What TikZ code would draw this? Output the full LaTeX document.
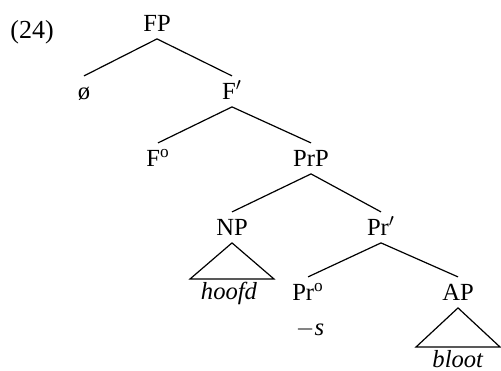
\documentclass[tikz,border=0pt]{standalone}
\usepackage{fontspec}
\setmainfont{Liberation Serif}
\usepackage{tikz}
\usetikzlibrary{calc}

\begin{document}
\begin{tikzpicture}[
  x=0.5pt, y=-0.5pt,
  font=\fontsize{12.3}{14}\selectfont,
  cat/.style={inner xsep=1pt, inner ysep=3.75pt, text height=7.6pt, text depth=0pt},
  leaf/.style={inner xsep=1pt, inner ysep=2.5pt, text height=7.6pt, text depth=0pt},
  branch/.style={line width=0.6pt},
  roof/.style={line width=0.6pt, line join=miter}
]
\useasboundingbox (0,0) rectangle (501,370);

\node[anchor=base west, inner sep=0, font=\fontsize{13}{14}\selectfont] (num) at (10,38) {(24)};

\node[cat] (fp)    at (157,23.4)  {FP};
\node[cat] (empty) at (84,91.4)   {ø};
\node[cat] (fbar)  at (232,91.4)  {F$'$};
\node[cat] (fzero) at (158,158.4) {F\textsuperscript{o}};
\node[cat] (prp)   at (311,158.4) {PrP};
\node[cat] (np)    at (232,227.4) {NP};
\node[cat] (prbar) at (381,227.4) {Pr$'$};
\node[cat] (przero) at (308,292.4) {Pr\textsuperscript{o}};
\node[cat] (ap)    at (458,292.4) {AP};
\node[leaf] (hoofd) at (229,292) {\textit{hoofd}};
\node[leaf] (suffix) at (310,327.4) {$-$\textit{s}};
\node[leaf] (bloot) at (458,360) {\textit{bloot}};

\draw[branch] (fp.south) -- (empty.north);
\draw[branch] (fp.south) -- (fbar.north);
\draw[branch] (fbar.south) -- (fzero.north);
\draw[branch] (fbar.south) -- (prp.north);
\draw[branch] (prp.south) -- (np.north);
\draw[branch] (prp.south) -- (prbar.north);
\draw[branch] (prbar.south) -- (przero.north);
\draw[branch] (prbar.south) -- (ap.north);

% roofs over the phrasal leaves
\draw[roof] (np.south) -- ($(np.south |- hoofd.north)+(-42,0)$)
  -- ($(np.south |- hoofd.north)+(42,0)$) -- cycle;
\draw[roof] (ap.south) -- ($(bloot.north)+(-42,0)$)
  -- ($(bloot.north)+(42,0)$) -- cycle;
\end{tikzpicture}
\end{document}
